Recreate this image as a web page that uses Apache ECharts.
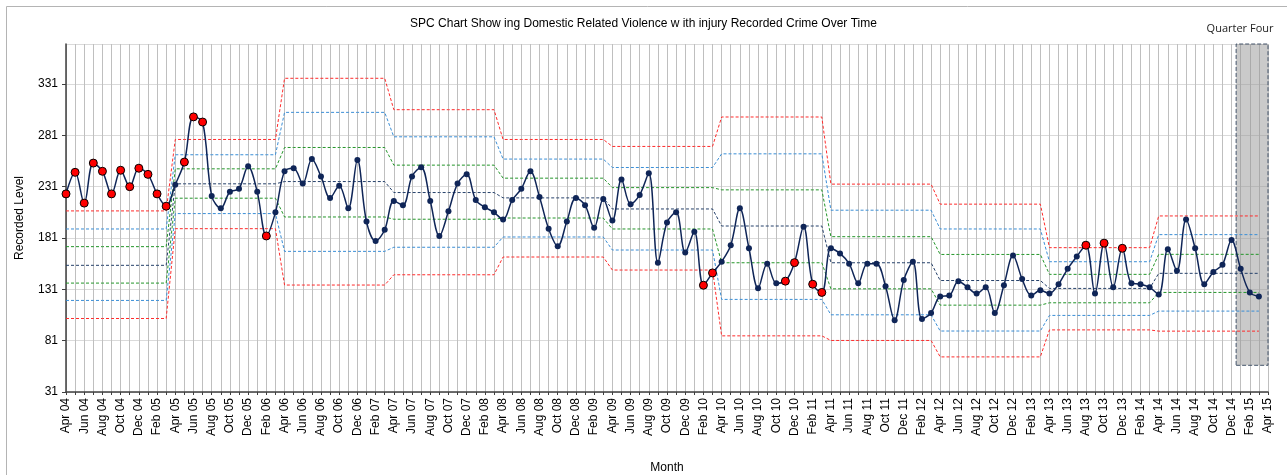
<!DOCTYPE html>
<html>
<head>
<meta charset="utf-8">
<title>SPC Chart</title>
<script src="https://cdn.jsdelivr.net/npm/echarts@6/dist/echarts.min.js"></script>
<style>
  html, body { margin: 0; padding: 0; background: #ffffff; }
  #chart { width: 1287px; height: 475px; }
</style>
</head>
<body>
<div id="chart"></div>
<script>
// month labels, financial years Apr 04 .. Mar 15, plus the closing Apr 15 tick
const monthNames = ['Apr', 'May', 'Jun', 'Jul', 'Aug', 'Sep', 'Oct', 'Nov', 'Dec', 'Jan', 'Feb', 'Mar']
const startYears = [4, 5, 6, 7, 8, 9, 10, 11, 12, 13, 14]
const yy = n => String(n % 100).padStart(2, '0')
const months = []
startYears.forEach(y => {
  monthNames.forEach((m, k) => months.push(m + ' ' + yy(k < 9 ? y : y + 1)))
})
months.push('Apr 15')

// recorded crimes per month (one row per financial year)
const recorded = [
  224, 245, 215, 254, 246, 224, 247, 231, 249, 243, 224, 212,
  233, 255, 299, 294, 222, 210, 226, 229, 251, 226, 183, 206,
  246, 249, 234, 258, 241, 220, 232, 210, 257, 197, 178, 189,
  217, 213, 241, 250, 217, 183, 207, 234, 243, 218, 211, 206,
  199, 218, 229, 246, 221, 190, 173, 197, 220, 213, 191, 219,
  198, 238, 214, 223, 244, 157, 196, 206, 167, 187, 135, 147,
  158, 174, 210, 171, 132, 156, 137, 139, 157, 192, 136, 128,
  171, 166, 156, 137, 156, 156, 134, 101, 140, 158, 102, 108,
  124, 125, 139, 133, 127, 133, 108, 135, 164, 141, 125, 130,
  127, 136, 151, 163, 174, 127, 176, 133, 171, 137, 136, 133,
  126, 170, 149, 199, 171, 136, 148, 155, 179, 151, 128, 124
]

// months flagged as special cause (red markers)
const flagged = [0, 1, 2, 3, 4, 5, 6, 7, 8, 9, 10, 11, 13, 14, 15, 22, 70, 71, 79, 80, 82, 83, 112, 114, 116]

// control lines, one value per financial year
const upper3 = [207.4, 277.0, 336.6, 306.0, 277.0, 270.2, 298.9, 233.5, 214.0, 171.6, 202.5]
const upper2 = [189.8, 262.1, 303.4, 279.6, 257.9, 249.7, 263.0, 208.1, 189.8, 157.9, 184.3]
const upper1 = [172.6, 248.4, 269.2, 252.0, 239.3, 230.1, 227.9, 182.3, 165.0, 145.6, 165.1]
const centre = [154.4, 233.8, 236.0, 225.3, 220.1, 209.3, 192.7, 156.9, 139.6, 131.9, 146.6]
const lower1 = [137.1, 219.8, 201.5, 199.3, 200.5, 189.8, 156.9, 131.5, 115.6, 117.9, 128.0]
const lower2 = [120.2, 204.8, 168.0, 172.0, 182.0, 169.3, 121.2, 106.2, 90.4, 105.6, 109.8]
const lower3 = [102.6, 190.1, 135.2, 145.2, 162.5, 149.8, 85.7, 81.2, 65.2, 91.5, 90.3]

// y ticks and highlighted quarter
const yMin = 31
const yMax = 370
const yStep = 50
const quarterStart = 'Jan 15'
const quarterFloor = 57

const FONT = '"Liberation Sans", Arial, sans-serif'

const byYear = arr => months.map((m, i) => (i < recorded.length ? arr[Math.floor(i / 12)] : null))

const limitLines = [
  { name: 'UCL', data: upper3, color: '#ff2b2b' },
  { name: 'Upper 2 sigma', data: upper2, color: '#3a8ed6' },
  { name: 'Upper 1 sigma', data: upper1, color: '#24962a' },
  { name: 'Mean', data: centre, color: '#25406a' },
  { name: 'Lower 1 sigma', data: lower1, color: '#24962a' },
  { name: 'Lower 2 sigma', data: lower2, color: '#3a8ed6' },
  { name: 'LCL', data: lower3, color: '#ff2b2b' }
]

const chart = echarts.init(document.getElementById('chart'))

const qStart = months.indexOf(quarterStart) - 0.5
const qEnd = months.length - 1

const option = {
  animation: false,
  backgroundColor: '#ffffff',
  title: {
    text: 'SPC Chart Show ing Domestic Related Violence w ith injury Recorded Crime Over Time',
    left: 'center',
    top: 13,
    textStyle: {
      fontFamily: FONT,
      fontSize: 12,
      fontWeight: 'normal',
      color: '#000000'
    }
  },
  graphic: [{
    type: 'rect',
    left: 4,
    top: 4,
    silent: true,
    shape: { width: 1300, height: 500 },
    style: { fill: 'none', stroke: '#b4b4b4', lineWidth: 1 }
  }],
  grid: {
    left: 66,
    right: 19,
    top: 44,
    bottom: 83,
    outerBoundsMode: 'none'
  },
  xAxis: [{
    type: 'category',
    data: months,
    boundaryGap: false,
    name: 'Month',
    nameLocation: 'middle',
    nameGap: 70,
    nameTextStyle: { fontFamily: FONT, fontSize: 12, color: '#000000' },
    axisLine: { lineStyle: { color: '#404040', width: 1.5 } },
    axisTick: { show: true, interval: 0, length: 3, lineStyle: { color: '#404040' } },
    axisLabel: {
      interval: 1,
      rotate: 90,
      margin: 6,
      fontFamily: FONT,
      fontSize: 12,
      color: '#000000'
    },
    splitLine: { show: true, interval: 0, lineStyle: { color: '#bfbfbf', width: 1 } }
  }, {
    type: 'value',
    min: 0,
    max: months.length - 1,
    show: false
  }],
  yAxis: {
    type: 'value',
    min: yMin,
    max: yMax,
    interval: yStep,
    name: 'Recorded Level',
    nameLocation: 'middle',
    nameGap: 40,
    nameTextStyle: { fontFamily: FONT, fontSize: 12, color: '#000000' },
    axisLine: { show: true, lineStyle: { color: '#404040', width: 1.5 } },
    axisTick: { show: true, length: 4, lineStyle: { color: '#404040' } },
    axisLabel: {
      showMaxLabel: false,
      margin: 8,
      fontFamily: FONT,
      fontSize: 12,
      color: '#000000'
    },
    splitLine: { lineStyle: { color: '#dadada', width: 1 } }
  },
  series: [
    {
      name: 'Quarter Four',
      type: 'line',
      xAxisIndex: 1,
      data: [],
      z: 1,
      silent: true,
      markArea: {
        silent: true,
        itemStyle: {
          color: 'rgba(150, 150, 150, 0.5)',
          borderColor: '#44546a',
          borderWidth: 1,
          borderType: 'dashed'
        },
        label: {
          show: true,
          position: 'top',
          distance: 9,
          offset: [-12, 0],
          fontFamily: '"Open Sans", sans-serif',
          fontSize: 11,
          color: '#222222'
        },
        data: [[
          { name: 'Quarter Four', coord: [qStart, quarterFloor] },
          { coord: [qEnd, yMax] }
        ]]
      }
    },
    ...limitLines.map(l => ({
      name: l.name,
      type: 'line',
      data: byYear(l.data),
      symbol: 'none',
      z: 2,
      lineStyle: { color: l.color, width: 1, type: [3, 2] }
    })),
    {
      name: 'Recorded Level',
      type: 'line',
      data: recorded.map((v, i) => flagged.includes(i)
        ? { value: v, symbolSize: 8, itemStyle: { color: '#ff0000', borderColor: '#000000', borderWidth: 1 } }
        : v),
      smooth: 0.35,
      symbol: 'circle',
      symbolSize: 6,
      showAllSymbol: true,
      z: 3,
      itemStyle: { color: '#0f2557' },
      lineStyle: { color: '#0f2557', width: 1.5 }
    }
  ]
}

chart.setOption(option)
window.addEventListener('resize', () => chart.resize())
</script>
</body>
</html>
